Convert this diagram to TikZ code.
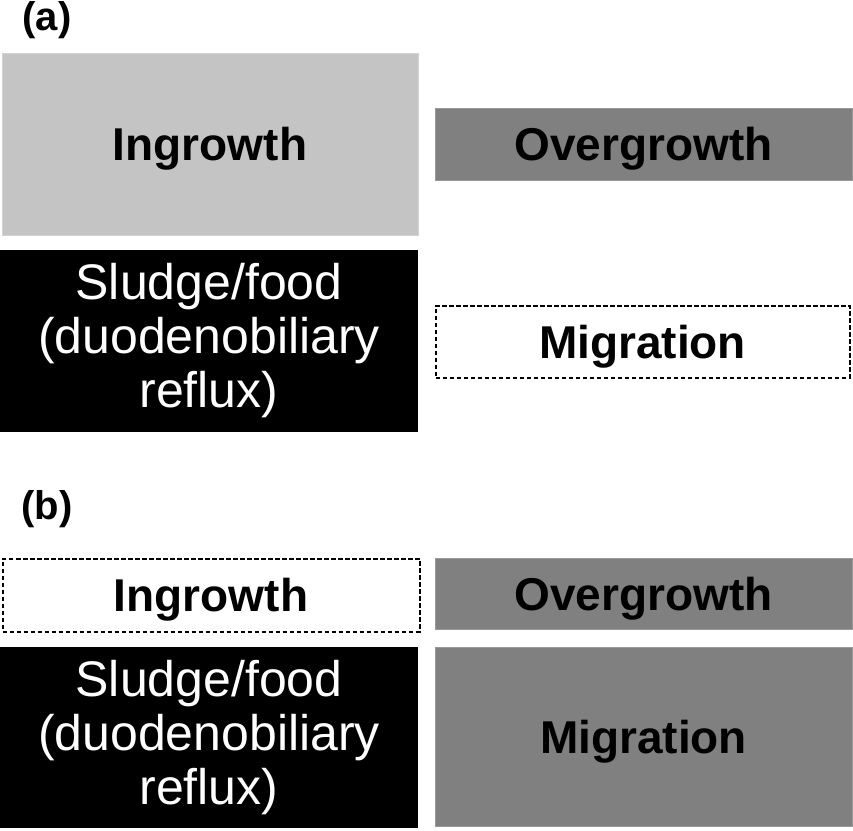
\documentclass[tikz,border=0pt]{standalone}
\usepackage{fontspec}
\setmainfont{Liberation Sans}
\usepackage{xcolor}
\definecolor{lightgrey}{RGB}{196,196,196}
\definecolor{midgrey}{RGB}{128,128,128}

\begin{document}
\begin{tikzpicture}[x=1pt, y=-1pt,
    cell/.style={rectangle, inner sep=0pt, align=center, text height=33pt, text depth=0pt,
                 font=\fontsize{46}{53}\selectfont\bfseries},
    light/.style={cell, fill=lightgrey, draw=lightgrey!75!white, line width=1pt},
    mid/.style={cell, fill=midgrey, draw=midgrey!80!white, line width=1pt},
    dark/.style={rectangle, inner sep=0pt, align=center, fill=black, text=white,
                 font=\fontsize{50}{54}\selectfont},
    open/.style={cell, fill=white, draw=black, line width=2pt, dash pattern=on 4.5pt off 2.5pt},
    panel/.style={font=\fontsize{40}{44}\selectfont\bfseries, inner sep=0pt}
]
    \useasboundingbox (0,0) rectangle (853,830);
    % panel (a)
    \node[panel] (labA) at (47,20) {(a)};
    \node[light, minimum width=416, minimum height=182] (ingA) at (210,144) {Ingrowth};
    \node[mid, minimum width=417, minimum height=72] (overA) at (643.5,144) {Overgrowth};
    \node[dark, minimum width=418, minimum height=182] (sludA) at (209,341) {Sludge/food\\(duodenobiliary\\reflux)};
    \node[open, minimum width=414, minimum height=72] (migA) at (642.5,341.5) {Migration};
    % panel (b)
    \node[panel] (labB) at (47,509) {(b)};
    \node[open, minimum width=417, minimum height=73] (ingB) at (211,595) {Ingrowth};
    \node[mid, minimum width=417, minimum height=71] (overB) at (643.5,593.5) {Overgrowth};
    \node[dark, minimum width=418, minimum height=181] (sludB) at (209,737.5) {Sludge/food\\(duodenobiliary\\reflux)};
    \node[mid, minimum width=417, minimum height=179] (migB) at (643.5,736.5) {Migration};
\end{tikzpicture}
\end{document}
